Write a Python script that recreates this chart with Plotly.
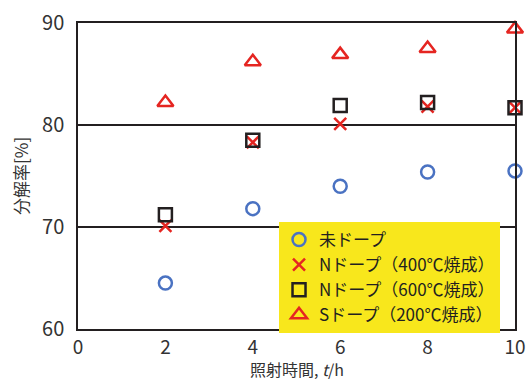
import plotly.graph_objects as go

x = [2, 4, 6, 8, 10]
undoped = [64.5, 71.8, 74.0, 75.4, 75.5]
n400 = [70.1, 78.3, 80.1, 81.8, 81.7]
n600 = [71.2, 78.5, 81.9, 82.2, 81.7]
s200 = [82.2, 86.2, 86.9, 87.5, 89.4]

names = ["未ドープ", "Nドープ（400℃焼成）", "Nドープ（600℃焼成）", "Sドープ（200℃焼成）"]
x_title = "照射時間, <i>t</i>/h"
y_title = "分解率[%]"

fig = go.Figure()
fig.add_trace(go.Scatter(x=x, y=undoped, mode="markers", name=names[0],
    marker=dict(symbol="circle-open", size=13, color="#4a72c2", line=dict(width=2.5))))
fig.add_trace(go.Scatter(x=x, y=n400, mode="markers", name=names[1],
    marker=dict(symbol="x-thin-open", size=12, color="#e52521", line=dict(width=2.5))))
fig.add_trace(go.Scatter(x=x, y=n600, mode="markers", name=names[2],
    marker=dict(symbol="square-open", size=13, color="#231f20", line=dict(width=2.5))))
fig.add_trace(go.Scatter(x=x, y=s200, mode="markers", name=names[3],
    marker=dict(symbol="triangle-up-open", size=14, color="#e52521", line=dict(width=2.5))))
fig.update_traces(cliponaxis=False)

font = "Noto Sans CJK JP"
fig.update_layout(
    width=529, height=381,
    margin=dict(l=78, r=14, t=23, b=52),
    plot_bgcolor="white", paper_bgcolor="white",
    font=dict(family=font, size=20, color="#333333"),
    xaxis=dict(range=[0, 10], dtick=2, showgrid=False, zeroline=False,
               showline=True, linecolor="#231f20", linewidth=1.5, mirror=True,
               ticks="", ticklabelstandoff=0, automargin=False,
               tickfont=dict(size=19)),
    yaxis=dict(range=[60, 90], dtick=10, showgrid=True, gridcolor="#231f20", gridwidth=1.5,
               zeroline=False, showline=True, linecolor="#231f20", linewidth=1.5, mirror=True,
               ticks="", ticklabelstandoff=8, automargin=False),
    legend=dict(x=0.46, y=0.35, xanchor="left", yanchor="top",
                bgcolor="#f8e71c", borderwidth=0,
                font=dict(size=17, color="#231f20"),
                itemwidth=30, tracegroupgap=0),
    showlegend=True,
    annotations=[
        dict(text=x_title, xref="paper", yref="paper", x=0.5, y=0,
             xanchor="center", yanchor="top", yshift=-27, showarrow=False,
             borderpad=0, font=dict(size=16, color="#333333")),
        dict(text=y_title, xref="paper", yref="paper", x=0, y=0.5,
             xanchor="center", yanchor="middle", xshift=-58, textangle=-90,
             showarrow=False, font=dict(size=17, color="#333333")),
    ],
)

fig.write_html("out.html", config={"displayModeBar": False},
               post_script="document.body.style.margin='0';")
